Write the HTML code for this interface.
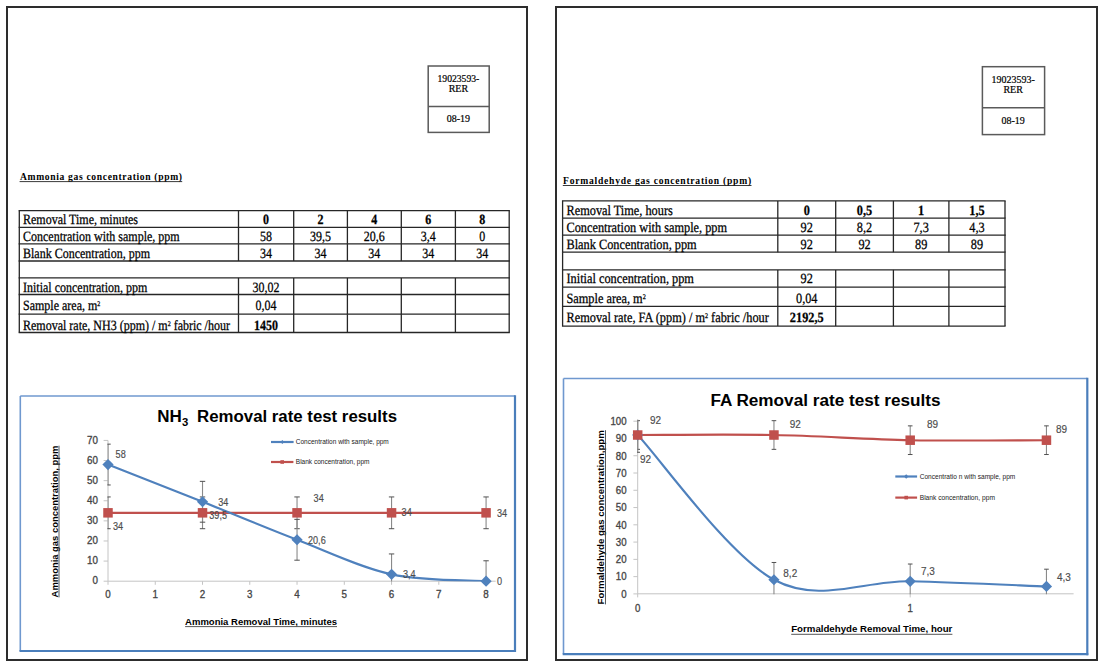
<!DOCTYPE html>
<html><head><meta charset="utf-8"><title>Gas removal rate report</title>
<style>
html,body{margin:0;padding:0;background:#fff;}
body{width:1104px;height:669px;overflow:hidden;position:relative;font-family:"Liberation Serif",serif;}
svg{position:absolute;left:0;top:0;display:block;}
</style></head>
<body>
<svg width="1104" height="669" viewBox="0 0 1104 669">
<rect x="0" y="0" width="1104" height="669" fill="#fff"/>
<rect x="7" y="7" width="520" height="653" fill="none" stroke="#2d2d2d" stroke-width="2"/>
<rect x="556" y="7" width="541" height="653" fill="none" stroke="#2d2d2d" stroke-width="2"/>
<rect x="428.20" y="66.00" width="61.00" height="66.40" fill="none" stroke="#5a5a5a" stroke-width="1.5"/>
<line x1="428.20" y1="106.60" x2="489.20" y2="106.60" stroke="#5a5a5a" stroke-width="1.5" />
<text transform="translate(458.40,82.00) scale(1.0,1.08)" x="0" y="0" font-family="&quot;Liberation Serif&quot;, serif" font-size="10" font-weight="normal" text-anchor="middle" fill="#000" textLength="41.80" lengthAdjust="spacingAndGlyphs" stroke="#000" stroke-width="0.2">19023593-</text>
<text transform="translate(458.40,92.10) scale(1.0,1.08)" x="0" y="0" font-family="&quot;Liberation Serif&quot;, serif" font-size="10" font-weight="normal" text-anchor="middle" fill="#000" stroke="#000" stroke-width="0.2">RER</text>
<text transform="translate(458.40,122.30) scale(1.0,1.08)" x="0" y="0" font-family="&quot;Liberation Serif&quot;, serif" font-size="10" font-weight="normal" text-anchor="middle" fill="#000" stroke="#000" stroke-width="0.2">08-19</text>
<rect x="982.40" y="66.70" width="62.20" height="67.90" fill="none" stroke="#5a5a5a" stroke-width="1.5"/>
<line x1="982.40" y1="107.80" x2="1044.60" y2="107.80" stroke="#5a5a5a" stroke-width="1.5" />
<text transform="translate(1013.10,82.80) scale(1.0,1.08)" x="0" y="0" font-family="&quot;Liberation Serif&quot;, serif" font-size="10" font-weight="normal" text-anchor="middle" fill="#000" textLength="43.20" lengthAdjust="spacingAndGlyphs" stroke="#000" stroke-width="0.2">19023593-</text>
<text transform="translate(1013.10,92.90) scale(1.0,1.08)" x="0" y="0" font-family="&quot;Liberation Serif&quot;, serif" font-size="10" font-weight="normal" text-anchor="middle" fill="#000" stroke="#000" stroke-width="0.2">RER</text>
<text transform="translate(1013.10,124.20) scale(1.0,1.08)" x="0" y="0" font-family="&quot;Liberation Serif&quot;, serif" font-size="10" font-weight="normal" text-anchor="middle" fill="#000" stroke="#000" stroke-width="0.2">08-19</text>
<line x1="18.65" y1="210.60" x2="509.85" y2="210.60" stroke="#262626" stroke-width="1.3" />
<line x1="18.65" y1="227.30" x2="509.85" y2="227.30" stroke="#262626" stroke-width="1.3" />
<line x1="18.65" y1="243.90" x2="509.85" y2="243.90" stroke="#262626" stroke-width="1.3" />
<line x1="18.65" y1="261.00" x2="509.85" y2="261.00" stroke="#262626" stroke-width="1.3" />
<line x1="18.65" y1="277.90" x2="509.85" y2="277.90" stroke="#262626" stroke-width="1.3" />
<line x1="18.65" y1="294.50" x2="509.85" y2="294.50" stroke="#262626" stroke-width="1.3" />
<line x1="18.65" y1="314.10" x2="509.85" y2="314.10" stroke="#262626" stroke-width="1.3" />
<line x1="18.65" y1="332.50" x2="509.85" y2="332.50" stroke="#262626" stroke-width="1.3" />
<line x1="19.30" y1="210.60" x2="19.30" y2="227.30" stroke="#262626" stroke-width="1.3" />
<line x1="238.50" y1="210.60" x2="238.50" y2="227.30" stroke="#262626" stroke-width="1.3" />
<line x1="293.70" y1="210.60" x2="293.70" y2="227.30" stroke="#262626" stroke-width="1.3" />
<line x1="347.40" y1="210.60" x2="347.40" y2="227.30" stroke="#262626" stroke-width="1.3" />
<line x1="401.30" y1="210.60" x2="401.30" y2="227.30" stroke="#262626" stroke-width="1.3" />
<line x1="455.40" y1="210.60" x2="455.40" y2="227.30" stroke="#262626" stroke-width="1.3" />
<line x1="509.20" y1="210.60" x2="509.20" y2="227.30" stroke="#262626" stroke-width="1.3" />
<line x1="19.30" y1="227.30" x2="19.30" y2="243.90" stroke="#262626" stroke-width="1.3" />
<line x1="238.50" y1="227.30" x2="238.50" y2="243.90" stroke="#262626" stroke-width="1.3" />
<line x1="293.70" y1="227.30" x2="293.70" y2="243.90" stroke="#262626" stroke-width="1.3" />
<line x1="347.40" y1="227.30" x2="347.40" y2="243.90" stroke="#262626" stroke-width="1.3" />
<line x1="401.30" y1="227.30" x2="401.30" y2="243.90" stroke="#262626" stroke-width="1.3" />
<line x1="455.40" y1="227.30" x2="455.40" y2="243.90" stroke="#262626" stroke-width="1.3" />
<line x1="509.20" y1="227.30" x2="509.20" y2="243.90" stroke="#262626" stroke-width="1.3" />
<line x1="19.30" y1="243.90" x2="19.30" y2="261.00" stroke="#262626" stroke-width="1.3" />
<line x1="238.50" y1="243.90" x2="238.50" y2="261.00" stroke="#262626" stroke-width="1.3" />
<line x1="293.70" y1="243.90" x2="293.70" y2="261.00" stroke="#262626" stroke-width="1.3" />
<line x1="347.40" y1="243.90" x2="347.40" y2="261.00" stroke="#262626" stroke-width="1.3" />
<line x1="401.30" y1="243.90" x2="401.30" y2="261.00" stroke="#262626" stroke-width="1.3" />
<line x1="455.40" y1="243.90" x2="455.40" y2="261.00" stroke="#262626" stroke-width="1.3" />
<line x1="509.20" y1="243.90" x2="509.20" y2="261.00" stroke="#262626" stroke-width="1.3" />
<line x1="19.30" y1="261.00" x2="19.30" y2="277.90" stroke="#262626" stroke-width="1.3" />
<line x1="509.20" y1="261.00" x2="509.20" y2="277.90" stroke="#262626" stroke-width="1.3" />
<line x1="19.30" y1="277.90" x2="19.30" y2="294.50" stroke="#262626" stroke-width="1.3" />
<line x1="238.50" y1="277.90" x2="238.50" y2="294.50" stroke="#262626" stroke-width="1.3" />
<line x1="293.70" y1="277.90" x2="293.70" y2="294.50" stroke="#262626" stroke-width="1.3" />
<line x1="347.40" y1="277.90" x2="347.40" y2="294.50" stroke="#262626" stroke-width="1.3" />
<line x1="401.30" y1="277.90" x2="401.30" y2="294.50" stroke="#262626" stroke-width="1.3" />
<line x1="455.40" y1="277.90" x2="455.40" y2="294.50" stroke="#262626" stroke-width="1.3" />
<line x1="509.20" y1="277.90" x2="509.20" y2="294.50" stroke="#262626" stroke-width="1.3" />
<line x1="19.30" y1="294.50" x2="19.30" y2="314.10" stroke="#262626" stroke-width="1.3" />
<line x1="238.50" y1="294.50" x2="238.50" y2="314.10" stroke="#262626" stroke-width="1.3" />
<line x1="293.70" y1="294.50" x2="293.70" y2="314.10" stroke="#262626" stroke-width="1.3" />
<line x1="347.40" y1="294.50" x2="347.40" y2="314.10" stroke="#262626" stroke-width="1.3" />
<line x1="401.30" y1="294.50" x2="401.30" y2="314.10" stroke="#262626" stroke-width="1.3" />
<line x1="455.40" y1="294.50" x2="455.40" y2="314.10" stroke="#262626" stroke-width="1.3" />
<line x1="509.20" y1="294.50" x2="509.20" y2="314.10" stroke="#262626" stroke-width="1.3" />
<line x1="19.30" y1="314.10" x2="19.30" y2="332.50" stroke="#262626" stroke-width="1.3" />
<line x1="238.50" y1="314.10" x2="238.50" y2="332.50" stroke="#262626" stroke-width="1.3" />
<line x1="293.70" y1="314.10" x2="293.70" y2="332.50" stroke="#262626" stroke-width="1.3" />
<line x1="347.40" y1="314.10" x2="347.40" y2="332.50" stroke="#262626" stroke-width="1.3" />
<line x1="401.30" y1="314.10" x2="401.30" y2="332.50" stroke="#262626" stroke-width="1.3" />
<line x1="455.40" y1="314.10" x2="455.40" y2="332.50" stroke="#262626" stroke-width="1.3" />
<line x1="509.20" y1="314.10" x2="509.20" y2="332.50" stroke="#262626" stroke-width="1.3" />
<text transform="translate(23.00,224.00) scale(1.0,1.18)" x="0" y="0" font-family="&quot;Liberation Serif&quot;, serif" font-size="12" font-weight="normal" text-anchor="start" fill="#000" stroke="#000" stroke-width="0.22" text-rendering="geometricPrecision">Removal Time, minutes</text>
<text transform="translate(23.00,241.00) scale(1.0,1.18)" x="0" y="0" font-family="&quot;Liberation Serif&quot;, serif" font-size="12" font-weight="normal" text-anchor="start" fill="#000" stroke="#000" stroke-width="0.22" text-rendering="geometricPrecision">Concentration with sample, ppm</text>
<text transform="translate(23.00,258.00) scale(1.0,1.18)" x="0" y="0" font-family="&quot;Liberation Serif&quot;, serif" font-size="12" font-weight="normal" text-anchor="start" fill="#000" stroke="#000" stroke-width="0.22" text-rendering="geometricPrecision">Blank Concentration, ppm</text>
<text transform="translate(23.00,292.00) scale(1.0,1.18)" x="0" y="0" font-family="&quot;Liberation Serif&quot;, serif" font-size="12" font-weight="normal" text-anchor="start" fill="#000" stroke="#000" stroke-width="0.22" text-rendering="geometricPrecision">Initial concentration, ppm</text>
<text transform="translate(23.00,310.00) scale(1.0,1.18)" x="0" y="0" font-family="&quot;Liberation Serif&quot;, serif" font-size="12" font-weight="normal" text-anchor="start" fill="#000" stroke="#000" stroke-width="0.22" text-rendering="geometricPrecision">Sample area, m<tspan font-size="6" dy="-3.6">2</tspan></text>
<text transform="translate(23.00,330.00) scale(1.0,1.18)" x="0" y="0" font-family="&quot;Liberation Serif&quot;, serif" font-size="12" font-weight="normal" text-anchor="start" fill="#000" stroke="#000" stroke-width="0.22" text-rendering="geometricPrecision">Removal rate, NH3 (ppm) / m<tspan font-size="6" dy="-3.6">2</tspan><tspan dy="3.6"> fabric /hour</tspan></text>
<text transform="translate(266.10,224.00) scale(1.0,1.18)" x="0" y="0" font-family="&quot;Liberation Serif&quot;, serif" font-size="12" font-weight="bold" text-anchor="middle" fill="#000" stroke="#000" stroke-width="0.22" text-rendering="geometricPrecision">0</text>
<text transform="translate(320.55,224.00) scale(1.0,1.18)" x="0" y="0" font-family="&quot;Liberation Serif&quot;, serif" font-size="12" font-weight="bold" text-anchor="middle" fill="#000" stroke="#000" stroke-width="0.22" text-rendering="geometricPrecision">2</text>
<text transform="translate(374.35,224.00) scale(1.0,1.18)" x="0" y="0" font-family="&quot;Liberation Serif&quot;, serif" font-size="12" font-weight="bold" text-anchor="middle" fill="#000" stroke="#000" stroke-width="0.22" text-rendering="geometricPrecision">4</text>
<text transform="translate(428.35,224.00) scale(1.0,1.18)" x="0" y="0" font-family="&quot;Liberation Serif&quot;, serif" font-size="12" font-weight="bold" text-anchor="middle" fill="#000" stroke="#000" stroke-width="0.22" text-rendering="geometricPrecision">6</text>
<text transform="translate(482.30,224.00) scale(1.0,1.18)" x="0" y="0" font-family="&quot;Liberation Serif&quot;, serif" font-size="12" font-weight="bold" text-anchor="middle" fill="#000" stroke="#000" stroke-width="0.22" text-rendering="geometricPrecision">8</text>
<text transform="translate(266.10,241.00) scale(1.0,1.18)" x="0" y="0" font-family="&quot;Liberation Serif&quot;, serif" font-size="12" font-weight="normal" text-anchor="middle" fill="#000" stroke="#000" stroke-width="0.22" text-rendering="geometricPrecision">58</text>
<text transform="translate(320.55,241.00) scale(1.0,1.18)" x="0" y="0" font-family="&quot;Liberation Serif&quot;, serif" font-size="12" font-weight="normal" text-anchor="middle" fill="#000" stroke="#000" stroke-width="0.22" text-rendering="geometricPrecision">39,5</text>
<text transform="translate(374.35,241.00) scale(1.0,1.18)" x="0" y="0" font-family="&quot;Liberation Serif&quot;, serif" font-size="12" font-weight="normal" text-anchor="middle" fill="#000" stroke="#000" stroke-width="0.22" text-rendering="geometricPrecision">20,6</text>
<text transform="translate(428.35,241.00) scale(1.0,1.18)" x="0" y="0" font-family="&quot;Liberation Serif&quot;, serif" font-size="12" font-weight="normal" text-anchor="middle" fill="#000" stroke="#000" stroke-width="0.22" text-rendering="geometricPrecision">3,4</text>
<text transform="translate(482.30,241.00) scale(1.0,1.18)" x="0" y="0" font-family="&quot;Liberation Serif&quot;, serif" font-size="12" font-weight="normal" text-anchor="middle" fill="#000" stroke="#000" stroke-width="0.22" text-rendering="geometricPrecision">0</text>
<text transform="translate(266.10,258.00) scale(1.0,1.18)" x="0" y="0" font-family="&quot;Liberation Serif&quot;, serif" font-size="12" font-weight="normal" text-anchor="middle" fill="#000" stroke="#000" stroke-width="0.22" text-rendering="geometricPrecision">34</text>
<text transform="translate(320.55,258.00) scale(1.0,1.18)" x="0" y="0" font-family="&quot;Liberation Serif&quot;, serif" font-size="12" font-weight="normal" text-anchor="middle" fill="#000" stroke="#000" stroke-width="0.22" text-rendering="geometricPrecision">34</text>
<text transform="translate(374.35,258.00) scale(1.0,1.18)" x="0" y="0" font-family="&quot;Liberation Serif&quot;, serif" font-size="12" font-weight="normal" text-anchor="middle" fill="#000" stroke="#000" stroke-width="0.22" text-rendering="geometricPrecision">34</text>
<text transform="translate(428.35,258.00) scale(1.0,1.18)" x="0" y="0" font-family="&quot;Liberation Serif&quot;, serif" font-size="12" font-weight="normal" text-anchor="middle" fill="#000" stroke="#000" stroke-width="0.22" text-rendering="geometricPrecision">34</text>
<text transform="translate(482.30,258.00) scale(1.0,1.18)" x="0" y="0" font-family="&quot;Liberation Serif&quot;, serif" font-size="12" font-weight="normal" text-anchor="middle" fill="#000" stroke="#000" stroke-width="0.22" text-rendering="geometricPrecision">34</text>
<text transform="translate(266.10,292.00) scale(1.0,1.18)" x="0" y="0" font-family="&quot;Liberation Serif&quot;, serif" font-size="12" font-weight="normal" text-anchor="middle" fill="#000" stroke="#000" stroke-width="0.22" text-rendering="geometricPrecision">30,02</text>
<text transform="translate(266.10,310.00) scale(1.0,1.18)" x="0" y="0" font-family="&quot;Liberation Serif&quot;, serif" font-size="12" font-weight="normal" text-anchor="middle" fill="#000" stroke="#000" stroke-width="0.22" text-rendering="geometricPrecision">0,04</text>
<text transform="translate(266.10,330.00) scale(1.0,1.18)" x="0" y="0" font-family="&quot;Liberation Serif&quot;, serif" font-size="12" font-weight="bold" text-anchor="middle" fill="#000" stroke="#000" stroke-width="0.22" text-rendering="geometricPrecision">1450</text>
<text transform="translate(20.00,180.20) scale(1.0,1.08)" x="0" y="0" font-family="&quot;Liberation Serif&quot;, serif" font-size="9.6" font-weight="bold" text-anchor="start" fill="#000" textLength="162.00" lengthAdjust="spacing" >Ammonia gas concentration (ppm)</text>
<line x1="19.60" y1="181.60" x2="182.20" y2="181.60" stroke="#222" stroke-width="0.9" />
<line x1="561.95" y1="200.90" x2="1005.65" y2="200.90" stroke="#262626" stroke-width="1.3" />
<line x1="561.95" y1="218.20" x2="1005.65" y2="218.20" stroke="#262626" stroke-width="1.3" />
<line x1="561.95" y1="235.10" x2="1005.65" y2="235.10" stroke="#262626" stroke-width="1.3" />
<line x1="561.95" y1="252.20" x2="1005.65" y2="252.20" stroke="#262626" stroke-width="1.3" />
<line x1="561.95" y1="269.90" x2="1005.65" y2="269.90" stroke="#262626" stroke-width="1.3" />
<line x1="561.95" y1="287.20" x2="1005.65" y2="287.20" stroke="#262626" stroke-width="1.3" />
<line x1="561.95" y1="306.30" x2="1005.65" y2="306.30" stroke="#262626" stroke-width="1.3" />
<line x1="561.95" y1="326.10" x2="1005.65" y2="326.10" stroke="#262626" stroke-width="1.3" />
<line x1="562.60" y1="200.90" x2="562.60" y2="218.20" stroke="#262626" stroke-width="1.3" />
<line x1="777.80" y1="200.90" x2="777.80" y2="218.20" stroke="#262626" stroke-width="1.3" />
<line x1="835.70" y1="200.90" x2="835.70" y2="218.20" stroke="#262626" stroke-width="1.3" />
<line x1="893.40" y1="200.90" x2="893.40" y2="218.20" stroke="#262626" stroke-width="1.3" />
<line x1="948.90" y1="200.90" x2="948.90" y2="218.20" stroke="#262626" stroke-width="1.3" />
<line x1="1005.00" y1="200.90" x2="1005.00" y2="218.20" stroke="#262626" stroke-width="1.3" />
<line x1="562.60" y1="218.20" x2="562.60" y2="235.10" stroke="#262626" stroke-width="1.3" />
<line x1="777.80" y1="218.20" x2="777.80" y2="235.10" stroke="#262626" stroke-width="1.3" />
<line x1="835.70" y1="218.20" x2="835.70" y2="235.10" stroke="#262626" stroke-width="1.3" />
<line x1="893.40" y1="218.20" x2="893.40" y2="235.10" stroke="#262626" stroke-width="1.3" />
<line x1="948.90" y1="218.20" x2="948.90" y2="235.10" stroke="#262626" stroke-width="1.3" />
<line x1="1005.00" y1="218.20" x2="1005.00" y2="235.10" stroke="#262626" stroke-width="1.3" />
<line x1="562.60" y1="235.10" x2="562.60" y2="252.20" stroke="#262626" stroke-width="1.3" />
<line x1="777.80" y1="235.10" x2="777.80" y2="252.20" stroke="#262626" stroke-width="1.3" />
<line x1="835.70" y1="235.10" x2="835.70" y2="252.20" stroke="#262626" stroke-width="1.3" />
<line x1="893.40" y1="235.10" x2="893.40" y2="252.20" stroke="#262626" stroke-width="1.3" />
<line x1="948.90" y1="235.10" x2="948.90" y2="252.20" stroke="#262626" stroke-width="1.3" />
<line x1="1005.00" y1="235.10" x2="1005.00" y2="252.20" stroke="#262626" stroke-width="1.3" />
<line x1="562.60" y1="252.20" x2="562.60" y2="269.90" stroke="#262626" stroke-width="1.3" />
<line x1="1005.00" y1="252.20" x2="1005.00" y2="269.90" stroke="#262626" stroke-width="1.3" />
<line x1="562.60" y1="269.90" x2="562.60" y2="287.20" stroke="#262626" stroke-width="1.3" />
<line x1="777.80" y1="269.90" x2="777.80" y2="287.20" stroke="#262626" stroke-width="1.3" />
<line x1="835.70" y1="269.90" x2="835.70" y2="287.20" stroke="#262626" stroke-width="1.3" />
<line x1="893.40" y1="269.90" x2="893.40" y2="287.20" stroke="#262626" stroke-width="1.3" />
<line x1="948.90" y1="269.90" x2="948.90" y2="287.20" stroke="#262626" stroke-width="1.3" />
<line x1="1005.00" y1="269.90" x2="1005.00" y2="287.20" stroke="#262626" stroke-width="1.3" />
<line x1="562.60" y1="287.20" x2="562.60" y2="306.30" stroke="#262626" stroke-width="1.3" />
<line x1="777.80" y1="287.20" x2="777.80" y2="306.30" stroke="#262626" stroke-width="1.3" />
<line x1="835.70" y1="287.20" x2="835.70" y2="306.30" stroke="#262626" stroke-width="1.3" />
<line x1="893.40" y1="287.20" x2="893.40" y2="306.30" stroke="#262626" stroke-width="1.3" />
<line x1="948.90" y1="287.20" x2="948.90" y2="306.30" stroke="#262626" stroke-width="1.3" />
<line x1="1005.00" y1="287.20" x2="1005.00" y2="306.30" stroke="#262626" stroke-width="1.3" />
<line x1="562.60" y1="306.30" x2="562.60" y2="326.10" stroke="#262626" stroke-width="1.3" />
<line x1="777.80" y1="306.30" x2="777.80" y2="326.10" stroke="#262626" stroke-width="1.3" />
<line x1="835.70" y1="306.30" x2="835.70" y2="326.10" stroke="#262626" stroke-width="1.3" />
<line x1="893.40" y1="306.30" x2="893.40" y2="326.10" stroke="#262626" stroke-width="1.3" />
<line x1="948.90" y1="306.30" x2="948.90" y2="326.10" stroke="#262626" stroke-width="1.3" />
<line x1="1005.00" y1="306.30" x2="1005.00" y2="326.10" stroke="#262626" stroke-width="1.3" />
<text transform="translate(566.50,215.00) scale(1.025,1.18)" x="0" y="0" font-family="&quot;Liberation Serif&quot;, serif" font-size="12" font-weight="normal" text-anchor="start" fill="#000" stroke="#000" stroke-width="0.22" text-rendering="geometricPrecision">Removal Time, hours</text>
<text transform="translate(566.50,232.00) scale(1.025,1.18)" x="0" y="0" font-family="&quot;Liberation Serif&quot;, serif" font-size="12" font-weight="normal" text-anchor="start" fill="#000" stroke="#000" stroke-width="0.22" text-rendering="geometricPrecision">Concentration with sample, ppm</text>
<text transform="translate(566.50,249.00) scale(1.025,1.18)" x="0" y="0" font-family="&quot;Liberation Serif&quot;, serif" font-size="12" font-weight="normal" text-anchor="start" fill="#000" stroke="#000" stroke-width="0.22" text-rendering="geometricPrecision">Blank Concentration, ppm</text>
<text transform="translate(566.50,283.00) scale(1.025,1.18)" x="0" y="0" font-family="&quot;Liberation Serif&quot;, serif" font-size="12" font-weight="normal" text-anchor="start" fill="#000" stroke="#000" stroke-width="0.22" text-rendering="geometricPrecision">Initial concentration, ppm</text>
<text transform="translate(566.50,303.00) scale(1.025,1.18)" x="0" y="0" font-family="&quot;Liberation Serif&quot;, serif" font-size="12" font-weight="normal" text-anchor="start" fill="#000" stroke="#000" stroke-width="0.22" text-rendering="geometricPrecision">Sample area, m<tspan font-size="6" dy="-3.6">2</tspan></text>
<text transform="translate(566.50,322.00) scale(1.025,1.18)" x="0" y="0" font-family="&quot;Liberation Serif&quot;, serif" font-size="12" font-weight="normal" text-anchor="start" fill="#000" stroke="#000" stroke-width="0.22" text-rendering="geometricPrecision">Removal rate, FA (ppm) / m<tspan font-size="6" dy="-3.6">2</tspan><tspan dy="3.6"> fabric /hour</tspan></text>
<text transform="translate(806.75,215.00) scale(1.025,1.18)" x="0" y="0" font-family="&quot;Liberation Serif&quot;, serif" font-size="12" font-weight="bold" text-anchor="middle" fill="#000" stroke="#000" stroke-width="0.22" text-rendering="geometricPrecision">0</text>
<text transform="translate(864.55,215.00) scale(1.025,1.18)" x="0" y="0" font-family="&quot;Liberation Serif&quot;, serif" font-size="12" font-weight="bold" text-anchor="middle" fill="#000" stroke="#000" stroke-width="0.22" text-rendering="geometricPrecision">0,5</text>
<text transform="translate(921.15,215.00) scale(1.025,1.18)" x="0" y="0" font-family="&quot;Liberation Serif&quot;, serif" font-size="12" font-weight="bold" text-anchor="middle" fill="#000" stroke="#000" stroke-width="0.22" text-rendering="geometricPrecision">1</text>
<text transform="translate(976.95,215.00) scale(1.025,1.18)" x="0" y="0" font-family="&quot;Liberation Serif&quot;, serif" font-size="12" font-weight="bold" text-anchor="middle" fill="#000" stroke="#000" stroke-width="0.22" text-rendering="geometricPrecision">1,5</text>
<text transform="translate(806.75,232.00) scale(1.025,1.18)" x="0" y="0" font-family="&quot;Liberation Serif&quot;, serif" font-size="12" font-weight="normal" text-anchor="middle" fill="#000" stroke="#000" stroke-width="0.22" text-rendering="geometricPrecision">92</text>
<text transform="translate(864.55,232.00) scale(1.025,1.18)" x="0" y="0" font-family="&quot;Liberation Serif&quot;, serif" font-size="12" font-weight="normal" text-anchor="middle" fill="#000" stroke="#000" stroke-width="0.22" text-rendering="geometricPrecision">8,2</text>
<text transform="translate(921.15,232.00) scale(1.025,1.18)" x="0" y="0" font-family="&quot;Liberation Serif&quot;, serif" font-size="12" font-weight="normal" text-anchor="middle" fill="#000" stroke="#000" stroke-width="0.22" text-rendering="geometricPrecision">7,3</text>
<text transform="translate(976.95,232.00) scale(1.025,1.18)" x="0" y="0" font-family="&quot;Liberation Serif&quot;, serif" font-size="12" font-weight="normal" text-anchor="middle" fill="#000" stroke="#000" stroke-width="0.22" text-rendering="geometricPrecision">4,3</text>
<text transform="translate(806.75,249.00) scale(1.025,1.18)" x="0" y="0" font-family="&quot;Liberation Serif&quot;, serif" font-size="12" font-weight="normal" text-anchor="middle" fill="#000" stroke="#000" stroke-width="0.22" text-rendering="geometricPrecision">92</text>
<text transform="translate(864.55,249.00) scale(1.025,1.18)" x="0" y="0" font-family="&quot;Liberation Serif&quot;, serif" font-size="12" font-weight="normal" text-anchor="middle" fill="#000" stroke="#000" stroke-width="0.22" text-rendering="geometricPrecision">92</text>
<text transform="translate(921.15,249.00) scale(1.025,1.18)" x="0" y="0" font-family="&quot;Liberation Serif&quot;, serif" font-size="12" font-weight="normal" text-anchor="middle" fill="#000" stroke="#000" stroke-width="0.22" text-rendering="geometricPrecision">89</text>
<text transform="translate(976.95,249.00) scale(1.025,1.18)" x="0" y="0" font-family="&quot;Liberation Serif&quot;, serif" font-size="12" font-weight="normal" text-anchor="middle" fill="#000" stroke="#000" stroke-width="0.22" text-rendering="geometricPrecision">89</text>
<text transform="translate(806.75,283.00) scale(1.025,1.18)" x="0" y="0" font-family="&quot;Liberation Serif&quot;, serif" font-size="12" font-weight="normal" text-anchor="middle" fill="#000" stroke="#000" stroke-width="0.22" text-rendering="geometricPrecision">92</text>
<text transform="translate(806.75,303.00) scale(1.025,1.18)" x="0" y="0" font-family="&quot;Liberation Serif&quot;, serif" font-size="12" font-weight="normal" text-anchor="middle" fill="#000" stroke="#000" stroke-width="0.22" text-rendering="geometricPrecision">0,04</text>
<text transform="translate(806.75,322.00) scale(1.025,1.18)" x="0" y="0" font-family="&quot;Liberation Serif&quot;, serif" font-size="12" font-weight="bold" text-anchor="middle" fill="#000" stroke="#000" stroke-width="0.22" text-rendering="geometricPrecision">2192,5</text>
<text transform="translate(563.10,184.00) scale(1.0,1.08)" x="0" y="0" font-family="&quot;Liberation Serif&quot;, serif" font-size="9.6" font-weight="bold" text-anchor="start" fill="#000" textLength="188.00" lengthAdjust="spacing" >Formaldehyde gas concentration (ppm)</text>
<line x1="562.80" y1="185.50" x2="751.50" y2="185.50" stroke="#222" stroke-width="0.9" />
<line x1="20.30" y1="396.00" x2="515.00" y2="396.00" stroke="#6f98cf" stroke-width="1.6"/>
<line x1="20.30" y1="396.00" x2="20.30" y2="651.00" stroke="#6f98cf" stroke-width="1.6"/>
<line x1="515.00" y1="395.20" x2="515.00" y2="652.00" stroke="#4a7ebb" stroke-width="2.2"/>
<line x1="19.50" y1="651.00" x2="516.00" y2="651.00" stroke="#4a7ebb" stroke-width="2.2"/>
<text x="157.30" y="422.40" font-family="&quot;Liberation Sans&quot;, sans-serif" font-size="16" font-weight="bold" text-anchor="start" fill="#000" textLength="24.50" lengthAdjust="spacingAndGlyphs" >NH</text>
<text x="182.00" y="425.80" font-family="&quot;Liberation Sans&quot;, sans-serif" font-size="10.5" font-weight="bold" text-anchor="start" fill="#000" textLength="6.30" lengthAdjust="spacingAndGlyphs" >3</text>
<text x="197.10" y="422.40" font-family="&quot;Liberation Sans&quot;, sans-serif" font-size="16" font-weight="bold" text-anchor="start" fill="#000" textLength="199.90" lengthAdjust="spacingAndGlyphs" >Removal rate test results</text>
<line x1="108.00" y1="440.43" x2="108.00" y2="581.20" stroke="#c4c4c4" stroke-width="1" />
<line x1="108.00" y1="581.20" x2="495.70" y2="581.20" stroke="#c4c4c4" stroke-width="1" />
<line x1="103.60" y1="581.20" x2="108.00" y2="581.20" stroke="#c4c4c4" stroke-width="1" />
<text transform="translate(97.90,584.30) scale(1.0,1.12)" x="0" y="0" font-family="&quot;Liberation Sans&quot;, sans-serif" font-size="9.8" font-weight="normal" text-anchor="end" fill="#454545" stroke="#454545" stroke-width="0.3">0</text>
<line x1="103.60" y1="561.09" x2="108.00" y2="561.09" stroke="#c4c4c4" stroke-width="1" />
<text transform="translate(97.90,564.19) scale(1.0,1.12)" x="0" y="0" font-family="&quot;Liberation Sans&quot;, sans-serif" font-size="9.8" font-weight="normal" text-anchor="end" fill="#454545" stroke="#454545" stroke-width="0.3">10</text>
<line x1="103.60" y1="540.98" x2="108.00" y2="540.98" stroke="#c4c4c4" stroke-width="1" />
<text transform="translate(97.90,544.08) scale(1.0,1.12)" x="0" y="0" font-family="&quot;Liberation Sans&quot;, sans-serif" font-size="9.8" font-weight="normal" text-anchor="end" fill="#454545" stroke="#454545" stroke-width="0.3">20</text>
<line x1="103.60" y1="520.87" x2="108.00" y2="520.87" stroke="#c4c4c4" stroke-width="1" />
<text transform="translate(97.90,523.97) scale(1.0,1.12)" x="0" y="0" font-family="&quot;Liberation Sans&quot;, sans-serif" font-size="9.8" font-weight="normal" text-anchor="end" fill="#454545" stroke="#454545" stroke-width="0.3">30</text>
<line x1="103.60" y1="500.76" x2="108.00" y2="500.76" stroke="#c4c4c4" stroke-width="1" />
<text transform="translate(97.90,503.86) scale(1.0,1.12)" x="0" y="0" font-family="&quot;Liberation Sans&quot;, sans-serif" font-size="9.8" font-weight="normal" text-anchor="end" fill="#454545" stroke="#454545" stroke-width="0.3">40</text>
<line x1="103.60" y1="480.65" x2="108.00" y2="480.65" stroke="#c4c4c4" stroke-width="1" />
<text transform="translate(97.90,483.75) scale(1.0,1.12)" x="0" y="0" font-family="&quot;Liberation Sans&quot;, sans-serif" font-size="9.8" font-weight="normal" text-anchor="end" fill="#454545" stroke="#454545" stroke-width="0.3">50</text>
<line x1="103.60" y1="460.54" x2="108.00" y2="460.54" stroke="#c4c4c4" stroke-width="1" />
<text transform="translate(97.90,463.64) scale(1.0,1.12)" x="0" y="0" font-family="&quot;Liberation Sans&quot;, sans-serif" font-size="9.8" font-weight="normal" text-anchor="end" fill="#454545" stroke="#454545" stroke-width="0.3">60</text>
<line x1="103.60" y1="440.43" x2="108.00" y2="440.43" stroke="#c4c4c4" stroke-width="1" />
<text transform="translate(97.90,443.53) scale(1.0,1.12)" x="0" y="0" font-family="&quot;Liberation Sans&quot;, sans-serif" font-size="9.8" font-weight="normal" text-anchor="end" fill="#454545" stroke="#454545" stroke-width="0.3">70</text>
<line x1="108.00" y1="581.20" x2="108.00" y2="584.80" stroke="#c4c4c4" stroke-width="1" />
<text transform="translate(108.00,598.40) scale(1.0,1.12)" x="0" y="0" font-family="&quot;Liberation Sans&quot;, sans-serif" font-size="9.8" font-weight="normal" text-anchor="middle" fill="#454545" stroke="#454545" stroke-width="0.3">0</text>
<line x1="155.26" y1="581.20" x2="155.26" y2="584.80" stroke="#c4c4c4" stroke-width="1" />
<text transform="translate(155.26,598.40) scale(1.0,1.12)" x="0" y="0" font-family="&quot;Liberation Sans&quot;, sans-serif" font-size="9.8" font-weight="normal" text-anchor="middle" fill="#454545" stroke="#454545" stroke-width="0.3">1</text>
<line x1="202.52" y1="581.20" x2="202.52" y2="584.80" stroke="#c4c4c4" stroke-width="1" />
<text transform="translate(202.52,598.40) scale(1.0,1.12)" x="0" y="0" font-family="&quot;Liberation Sans&quot;, sans-serif" font-size="9.8" font-weight="normal" text-anchor="middle" fill="#454545" stroke="#454545" stroke-width="0.3">2</text>
<line x1="249.78" y1="581.20" x2="249.78" y2="584.80" stroke="#c4c4c4" stroke-width="1" />
<text transform="translate(249.78,598.40) scale(1.0,1.12)" x="0" y="0" font-family="&quot;Liberation Sans&quot;, sans-serif" font-size="9.8" font-weight="normal" text-anchor="middle" fill="#454545" stroke="#454545" stroke-width="0.3">3</text>
<line x1="297.04" y1="581.20" x2="297.04" y2="584.80" stroke="#c4c4c4" stroke-width="1" />
<text transform="translate(297.04,598.40) scale(1.0,1.12)" x="0" y="0" font-family="&quot;Liberation Sans&quot;, sans-serif" font-size="9.8" font-weight="normal" text-anchor="middle" fill="#454545" stroke="#454545" stroke-width="0.3">4</text>
<line x1="344.30" y1="581.20" x2="344.30" y2="584.80" stroke="#c4c4c4" stroke-width="1" />
<text transform="translate(344.30,598.40) scale(1.0,1.12)" x="0" y="0" font-family="&quot;Liberation Sans&quot;, sans-serif" font-size="9.8" font-weight="normal" text-anchor="middle" fill="#454545" stroke="#454545" stroke-width="0.3">5</text>
<line x1="391.56" y1="581.20" x2="391.56" y2="584.80" stroke="#c4c4c4" stroke-width="1" />
<text transform="translate(391.56,598.40) scale(1.0,1.12)" x="0" y="0" font-family="&quot;Liberation Sans&quot;, sans-serif" font-size="9.8" font-weight="normal" text-anchor="middle" fill="#454545" stroke="#454545" stroke-width="0.3">6</text>
<line x1="438.82" y1="581.20" x2="438.82" y2="584.80" stroke="#c4c4c4" stroke-width="1" />
<text transform="translate(438.82,598.40) scale(1.0,1.12)" x="0" y="0" font-family="&quot;Liberation Sans&quot;, sans-serif" font-size="9.8" font-weight="normal" text-anchor="middle" fill="#454545" stroke="#454545" stroke-width="0.3">7</text>
<line x1="486.08" y1="581.20" x2="486.08" y2="584.80" stroke="#c4c4c4" stroke-width="1" />
<text transform="translate(486.08,598.40) scale(1.0,1.12)" x="0" y="0" font-family="&quot;Liberation Sans&quot;, sans-serif" font-size="9.8" font-weight="normal" text-anchor="middle" fill="#454545" stroke="#454545" stroke-width="0.3">8</text>
<text x="185.10" y="624.90" font-family="&quot;Liberation Sans&quot;, sans-serif" font-size="9" font-weight="bold" text-anchor="start" fill="#000" textLength="151.90" lengthAdjust="spacingAndGlyphs" >Ammonia Removal Time, minutes</text>
<line x1="185.10" y1="626.60" x2="337.00" y2="626.60" stroke="#444" stroke-width="0.9" />
<g transform="translate(57.8,597.4) rotate(-90)">
<text x="0.00" y="0.00" font-family="&quot;Liberation Sans&quot;, sans-serif" font-size="9" font-weight="bold" text-anchor="start" fill="#000" textLength="151.70" lengthAdjust="spacingAndGlyphs" >Ammonia gas concentration, ppm</text>
<line x1="0.00" y1="1.20" x2="151.70" y2="1.20" stroke="#444" stroke-width="0.9" />
</g>
<line x1="271.00" y1="442.00" x2="293.60" y2="442.00" stroke="#4f81bd" stroke-width="2.2" />
<path d="M282.30,440.10 L284.20,442.00 L282.30,443.90 L280.40,442.00 Z" fill="#4f81bd"/>
<text x="295.80" y="443.80" font-family="&quot;Liberation Sans&quot;, sans-serif" font-size="6.3" font-weight="normal" text-anchor="start" fill="#222" textLength="93.00" lengthAdjust="spacingAndGlyphs" >Concentration with sample, ppm</text>
<line x1="271.00" y1="462.00" x2="293.40" y2="462.00" stroke="#c0504d" stroke-width="2.2" />
<rect x="280.40" y="460.20" width="3.60" height="3.60" fill="#c0504d"/>
<text x="295.80" y="464.10" font-family="&quot;Liberation Sans&quot;, sans-serif" font-size="6.3" font-weight="normal" text-anchor="start" fill="#222" textLength="73.70" lengthAdjust="spacingAndGlyphs" >Blank concentration, ppm</text>
<clipPath id="cpL"><rect x="107.4" y="430" width="395" height="151.6"/></clipPath>
<g clip-path="url(#cpL)">
<line x1="108.00" y1="496.94" x2="108.00" y2="528.71" stroke="#8a8a8a" stroke-width="1.1" />
<line x1="105.30" y1="496.94" x2="110.70" y2="496.94" stroke="#505050" stroke-width="1" />
<line x1="105.30" y1="528.71" x2="110.70" y2="528.71" stroke="#505050" stroke-width="1" />
<line x1="202.52" y1="496.94" x2="202.52" y2="528.71" stroke="#8a8a8a" stroke-width="1.1" />
<line x1="199.82" y1="496.94" x2="205.22" y2="496.94" stroke="#505050" stroke-width="1" />
<line x1="199.82" y1="528.71" x2="205.22" y2="528.71" stroke="#505050" stroke-width="1" />
<line x1="297.04" y1="496.94" x2="297.04" y2="528.71" stroke="#8a8a8a" stroke-width="1.1" />
<line x1="294.34" y1="496.94" x2="299.74" y2="496.94" stroke="#505050" stroke-width="1" />
<line x1="294.34" y1="528.71" x2="299.74" y2="528.71" stroke="#505050" stroke-width="1" />
<line x1="391.56" y1="496.94" x2="391.56" y2="528.71" stroke="#8a8a8a" stroke-width="1.1" />
<line x1="388.86" y1="496.94" x2="394.26" y2="496.94" stroke="#505050" stroke-width="1" />
<line x1="388.86" y1="528.71" x2="394.26" y2="528.71" stroke="#505050" stroke-width="1" />
<line x1="486.08" y1="496.94" x2="486.08" y2="528.71" stroke="#8a8a8a" stroke-width="1.1" />
<line x1="483.38" y1="496.94" x2="488.78" y2="496.94" stroke="#505050" stroke-width="1" />
<line x1="483.38" y1="528.71" x2="488.78" y2="528.71" stroke="#505050" stroke-width="1" />
<line x1="108.00" y1="444.15" x2="108.00" y2="484.97" stroke="#8a8a8a" stroke-width="1.1" />
<line x1="105.30" y1="444.15" x2="110.70" y2="444.15" stroke="#505050" stroke-width="1" />
<line x1="105.30" y1="484.97" x2="110.70" y2="484.97" stroke="#505050" stroke-width="1" />
<line x1="202.52" y1="481.35" x2="202.52" y2="522.18" stroke="#8a8a8a" stroke-width="1.1" />
<line x1="199.82" y1="481.35" x2="205.22" y2="481.35" stroke="#505050" stroke-width="1" />
<line x1="199.82" y1="522.18" x2="205.22" y2="522.18" stroke="#505050" stroke-width="1" />
<line x1="297.04" y1="519.36" x2="297.04" y2="560.19" stroke="#8a8a8a" stroke-width="1.1" />
<line x1="294.34" y1="519.36" x2="299.74" y2="519.36" stroke="#505050" stroke-width="1" />
<line x1="294.34" y1="560.19" x2="299.74" y2="560.19" stroke="#505050" stroke-width="1" />
<line x1="391.56" y1="553.95" x2="391.56" y2="594.77" stroke="#8a8a8a" stroke-width="1.1" />
<line x1="388.86" y1="553.95" x2="394.26" y2="553.95" stroke="#505050" stroke-width="1" />
<line x1="388.86" y1="594.77" x2="394.26" y2="594.77" stroke="#505050" stroke-width="1" />
<line x1="486.08" y1="560.79" x2="486.08" y2="601.61" stroke="#8a8a8a" stroke-width="1.1" />
<line x1="483.38" y1="560.79" x2="488.78" y2="560.79" stroke="#505050" stroke-width="1" />
<line x1="483.38" y1="601.61" x2="488.78" y2="601.61" stroke="#505050" stroke-width="1" />
<path d="M108.00,512.83 C123.75,512.83 171.01,512.83 202.52,512.83 C234.03,512.83 265.53,512.83 297.04,512.83 C328.55,512.83 360.05,512.83 391.56,512.83 C423.07,512.83 470.33,512.83 486.08,512.83" fill="none" stroke="#c0504d" stroke-width="2.1"/>
<path d="M108.00,464.56 C123.75,470.76 171.01,489.23 202.52,501.77 C234.03,514.30 265.53,527.67 297.04,539.77 C328.55,551.87 360.05,567.46 391.56,574.36 C423.07,581.27 470.33,580.06 486.08,581.20" fill="none" stroke="#4f81bd" stroke-width="2.1"/>
</g>
<rect x="103.25" y="508.08" width="9.50" height="9.50" fill="#c0504d"/>
<rect x="197.77" y="508.08" width="9.50" height="9.50" fill="#c0504d"/>
<rect x="292.29" y="508.08" width="9.50" height="9.50" fill="#c0504d"/>
<rect x="386.81" y="508.08" width="9.50" height="9.50" fill="#c0504d"/>
<rect x="481.33" y="508.08" width="9.50" height="9.50" fill="#c0504d"/>
<path d="M108.00,458.96 L113.60,464.56 L108.00,470.16 L102.40,464.56 Z" fill="#4f81bd"/>
<path d="M202.52,496.17 L208.12,501.77 L202.52,507.37 L196.92,501.77 Z" fill="#4f81bd"/>
<path d="M297.04,534.17 L302.64,539.77 L297.04,545.37 L291.44,539.77 Z" fill="#4f81bd"/>
<path d="M391.56,568.76 L397.16,574.36 L391.56,579.96 L385.96,574.36 Z" fill="#4f81bd"/>
<path d="M486.08,575.60 L491.68,581.20 L486.08,586.80 L480.48,581.20 Z" fill="#4f81bd"/>
<text transform="translate(115.60,457.60) scale(1.0,1.12)" x="0" y="0" font-family="&quot;Liberation Sans&quot;, sans-serif" font-size="9.1" font-weight="normal" text-anchor="start" fill="#4d4d4d" stroke="#4d4d4d" stroke-width="0.15">58</text>
<text transform="translate(113.00,530.30) scale(1.0,1.12)" x="0" y="0" font-family="&quot;Liberation Sans&quot;, sans-serif" font-size="9.1" font-weight="normal" text-anchor="start" fill="#4d4d4d" stroke="#4d4d4d" stroke-width="0.15">34</text>
<text transform="translate(218.30,506.40) scale(1.0,1.12)" x="0" y="0" font-family="&quot;Liberation Sans&quot;, sans-serif" font-size="9.1" font-weight="normal" text-anchor="start" fill="#4d4d4d" stroke="#4d4d4d" stroke-width="0.15">34</text>
<text transform="translate(209.30,518.50) scale(1.0,1.12)" x="0" y="0" font-family="&quot;Liberation Sans&quot;, sans-serif" font-size="9.1" font-weight="normal" text-anchor="start" fill="#4d4d4d" stroke="#4d4d4d" stroke-width="0.15">39,5</text>
<text transform="translate(313.60,501.60) scale(1.0,1.12)" x="0" y="0" font-family="&quot;Liberation Sans&quot;, sans-serif" font-size="9.1" font-weight="normal" text-anchor="start" fill="#4d4d4d" stroke="#4d4d4d" stroke-width="0.15">34</text>
<text transform="translate(308.00,543.60) scale(1.0,1.12)" x="0" y="0" font-family="&quot;Liberation Sans&quot;, sans-serif" font-size="9.1" font-weight="normal" text-anchor="start" fill="#4d4d4d" stroke="#4d4d4d" stroke-width="0.15">20,6</text>
<text transform="translate(401.60,516.00) scale(1.0,1.12)" x="0" y="0" font-family="&quot;Liberation Sans&quot;, sans-serif" font-size="9.1" font-weight="normal" text-anchor="start" fill="#4d4d4d" stroke="#4d4d4d" stroke-width="0.15">34</text>
<text transform="translate(403.00,578.20) scale(1.0,1.12)" x="0" y="0" font-family="&quot;Liberation Sans&quot;, sans-serif" font-size="9.1" font-weight="normal" text-anchor="start" fill="#4d4d4d" stroke="#4d4d4d" stroke-width="0.15">3,4</text>
<text transform="translate(497.00,516.60) scale(1.0,1.12)" x="0" y="0" font-family="&quot;Liberation Sans&quot;, sans-serif" font-size="9.1" font-weight="normal" text-anchor="start" fill="#4d4d4d" stroke="#4d4d4d" stroke-width="0.15">34</text>
<text transform="translate(497.00,584.60) scale(1.0,1.12)" x="0" y="0" font-family="&quot;Liberation Sans&quot;, sans-serif" font-size="9.1" font-weight="normal" text-anchor="start" fill="#4d4d4d" stroke="#4d4d4d" stroke-width="0.15">0</text>
<line x1="563.50" y1="378.50" x2="1087.30" y2="378.50" stroke="#6f98cf" stroke-width="1.6"/>
<line x1="563.50" y1="378.50" x2="563.50" y2="654.20" stroke="#6f98cf" stroke-width="1.6"/>
<line x1="1087.30" y1="377.70" x2="1087.30" y2="655.20" stroke="#4a7ebb" stroke-width="2.2"/>
<line x1="562.70" y1="654.20" x2="1088.30" y2="654.20" stroke="#4a7ebb" stroke-width="2.2"/>
<text x="710.40" y="406.00" font-family="&quot;Liberation Sans&quot;, sans-serif" font-size="16" font-weight="bold" text-anchor="start" fill="#000" textLength="230.10" lengthAdjust="spacingAndGlyphs" >FA Removal rate test results</text>
<line x1="637.70" y1="421.20" x2="637.70" y2="593.80" stroke="#c4c4c4" stroke-width="1" />
<line x1="637.70" y1="593.80" x2="1073.60" y2="593.80" stroke="#c4c4c4" stroke-width="1" />
<line x1="633.40" y1="593.90" x2="637.70" y2="593.90" stroke="#c4c4c4" stroke-width="1" />
<text transform="translate(626.60,597.70) scale(1.0,1.12)" x="0" y="0" font-family="&quot;Liberation Sans&quot;, sans-serif" font-size="9.7" font-weight="normal" text-anchor="end" fill="#454545" stroke="#454545" stroke-width="0.3">0</text>
<line x1="633.40" y1="576.63" x2="637.70" y2="576.63" stroke="#c4c4c4" stroke-width="1" />
<text transform="translate(626.60,580.43) scale(1.0,1.12)" x="0" y="0" font-family="&quot;Liberation Sans&quot;, sans-serif" font-size="9.7" font-weight="normal" text-anchor="end" fill="#454545" stroke="#454545" stroke-width="0.3">10</text>
<line x1="633.40" y1="559.36" x2="637.70" y2="559.36" stroke="#c4c4c4" stroke-width="1" />
<text transform="translate(626.60,563.16) scale(1.0,1.12)" x="0" y="0" font-family="&quot;Liberation Sans&quot;, sans-serif" font-size="9.7" font-weight="normal" text-anchor="end" fill="#454545" stroke="#454545" stroke-width="0.3">20</text>
<line x1="633.40" y1="542.09" x2="637.70" y2="542.09" stroke="#c4c4c4" stroke-width="1" />
<text transform="translate(626.60,545.89) scale(1.0,1.12)" x="0" y="0" font-family="&quot;Liberation Sans&quot;, sans-serif" font-size="9.7" font-weight="normal" text-anchor="end" fill="#454545" stroke="#454545" stroke-width="0.3">30</text>
<line x1="633.40" y1="524.82" x2="637.70" y2="524.82" stroke="#c4c4c4" stroke-width="1" />
<text transform="translate(626.60,528.62) scale(1.0,1.12)" x="0" y="0" font-family="&quot;Liberation Sans&quot;, sans-serif" font-size="9.7" font-weight="normal" text-anchor="end" fill="#454545" stroke="#454545" stroke-width="0.3">40</text>
<line x1="633.40" y1="507.55" x2="637.70" y2="507.55" stroke="#c4c4c4" stroke-width="1" />
<text transform="translate(626.60,511.35) scale(1.0,1.12)" x="0" y="0" font-family="&quot;Liberation Sans&quot;, sans-serif" font-size="9.7" font-weight="normal" text-anchor="end" fill="#454545" stroke="#454545" stroke-width="0.3">50</text>
<line x1="633.40" y1="490.28" x2="637.70" y2="490.28" stroke="#c4c4c4" stroke-width="1" />
<text transform="translate(626.60,494.08) scale(1.0,1.12)" x="0" y="0" font-family="&quot;Liberation Sans&quot;, sans-serif" font-size="9.7" font-weight="normal" text-anchor="end" fill="#454545" stroke="#454545" stroke-width="0.3">60</text>
<line x1="633.40" y1="473.01" x2="637.70" y2="473.01" stroke="#c4c4c4" stroke-width="1" />
<text transform="translate(626.60,476.81) scale(1.0,1.12)" x="0" y="0" font-family="&quot;Liberation Sans&quot;, sans-serif" font-size="9.7" font-weight="normal" text-anchor="end" fill="#454545" stroke="#454545" stroke-width="0.3">70</text>
<line x1="633.40" y1="455.74" x2="637.70" y2="455.74" stroke="#c4c4c4" stroke-width="1" />
<text transform="translate(626.60,459.54) scale(1.0,1.12)" x="0" y="0" font-family="&quot;Liberation Sans&quot;, sans-serif" font-size="9.7" font-weight="normal" text-anchor="end" fill="#454545" stroke="#454545" stroke-width="0.3">80</text>
<line x1="633.40" y1="438.47" x2="637.70" y2="438.47" stroke="#c4c4c4" stroke-width="1" />
<text transform="translate(626.60,442.27) scale(1.0,1.12)" x="0" y="0" font-family="&quot;Liberation Sans&quot;, sans-serif" font-size="9.7" font-weight="normal" text-anchor="end" fill="#454545" stroke="#454545" stroke-width="0.3">90</text>
<line x1="633.40" y1="421.20" x2="637.70" y2="421.20" stroke="#c4c4c4" stroke-width="1" />
<text transform="translate(626.60,425.00) scale(1.0,1.12)" x="0" y="0" font-family="&quot;Liberation Sans&quot;, sans-serif" font-size="9.7" font-weight="normal" text-anchor="end" fill="#454545" stroke="#454545" stroke-width="0.3">100</text>
<line x1="637.70" y1="593.80" x2="637.70" y2="597.40" stroke="#c4c4c4" stroke-width="1" />
<text transform="translate(637.70,611.80) scale(1.0,1.12)" x="0" y="0" font-family="&quot;Liberation Sans&quot;, sans-serif" font-size="9.7" font-weight="normal" text-anchor="middle" fill="#454545" stroke="#454545" stroke-width="0.3">0</text>
<line x1="910.20" y1="593.80" x2="910.20" y2="597.40" stroke="#c4c4c4" stroke-width="1" />
<text transform="translate(910.20,611.80) scale(1.0,1.12)" x="0" y="0" font-family="&quot;Liberation Sans&quot;, sans-serif" font-size="9.7" font-weight="normal" text-anchor="middle" fill="#454545" stroke="#454545" stroke-width="0.3">1</text>
<text x="791.20" y="632.40" font-family="&quot;Liberation Sans&quot;, sans-serif" font-size="9" font-weight="bold" text-anchor="start" fill="#000" textLength="161.20" lengthAdjust="spacingAndGlyphs" >Formaldehyde Removal Time, hour</text>
<line x1="791.20" y1="634.30" x2="952.40" y2="634.30" stroke="#444" stroke-width="0.9" />
<g transform="translate(604.3,604.4) rotate(-90)">
<text x="0.00" y="0.00" font-family="&quot;Liberation Sans&quot;, sans-serif" font-size="9" font-weight="bold" text-anchor="start" fill="#000" textLength="174.20" lengthAdjust="spacingAndGlyphs" >Formaldehyde gas concentration,ppm</text>
<line x1="0.00" y1="1.20" x2="174.20" y2="1.20" stroke="#444" stroke-width="0.9" />
</g>
<line x1="895.30" y1="476.50" x2="917.10" y2="476.50" stroke="#4f81bd" stroke-width="2.2" />
<path d="M906.20,474.30 L908.40,476.50 L906.20,478.70 L904.00,476.50 Z" fill="#4f81bd"/>
<text x="919.70" y="478.60" font-family="&quot;Liberation Sans&quot;, sans-serif" font-size="6.3" font-weight="normal" text-anchor="start" fill="#222" textLength="95.60" lengthAdjust="spacingAndGlyphs" >Concentratio n with sample, ppm</text>
<line x1="895.30" y1="497.60" x2="917.10" y2="497.60" stroke="#c0504d" stroke-width="2.2" />
<rect x="904.40" y="495.80" width="3.60" height="3.60" fill="#c0504d"/>
<text x="919.70" y="499.70" font-family="&quot;Liberation Sans&quot;, sans-serif" font-size="6.3" font-weight="normal" text-anchor="start" fill="#222" textLength="75.30" lengthAdjust="spacingAndGlyphs" >Blank concentration, ppm</text>
<clipPath id="cpR"><rect x="637.1" y="419.6" width="440" height="174.6"/></clipPath>
<g clip-path="url(#cpR)">
<line x1="637.70" y1="420.68" x2="637.70" y2="449.35" stroke="#8a8a8a" stroke-width="1.1" />
<line x1="635.40" y1="420.68" x2="640.00" y2="420.68" stroke="#505050" stroke-width="1" />
<line x1="635.40" y1="449.35" x2="640.00" y2="449.35" stroke="#505050" stroke-width="1" />
<line x1="773.95" y1="420.68" x2="773.95" y2="449.35" stroke="#8a8a8a" stroke-width="1.1" />
<line x1="771.65" y1="420.68" x2="776.25" y2="420.68" stroke="#505050" stroke-width="1" />
<line x1="771.65" y1="449.35" x2="776.25" y2="449.35" stroke="#505050" stroke-width="1" />
<line x1="910.20" y1="425.86" x2="910.20" y2="454.53" stroke="#8a8a8a" stroke-width="1.1" />
<line x1="907.90" y1="425.86" x2="912.50" y2="425.86" stroke="#505050" stroke-width="1" />
<line x1="907.90" y1="454.53" x2="912.50" y2="454.53" stroke="#505050" stroke-width="1" />
<line x1="1046.45" y1="425.86" x2="1046.45" y2="454.53" stroke="#8a8a8a" stroke-width="1.1" />
<line x1="1044.15" y1="425.86" x2="1048.75" y2="425.86" stroke="#505050" stroke-width="1" />
<line x1="1044.15" y1="454.53" x2="1048.75" y2="454.53" stroke="#505050" stroke-width="1" />
<line x1="637.70" y1="417.75" x2="637.70" y2="452.29" stroke="#8a8a8a" stroke-width="1.1" />
<line x1="635.40" y1="417.75" x2="640.00" y2="417.75" stroke="#505050" stroke-width="1" />
<line x1="635.40" y1="452.29" x2="640.00" y2="452.29" stroke="#505050" stroke-width="1" />
<line x1="773.95" y1="562.47" x2="773.95" y2="597.01" stroke="#8a8a8a" stroke-width="1.1" />
<line x1="771.65" y1="562.47" x2="776.25" y2="562.47" stroke="#505050" stroke-width="1" />
<line x1="771.65" y1="597.01" x2="776.25" y2="597.01" stroke="#505050" stroke-width="1" />
<line x1="910.20" y1="564.02" x2="910.20" y2="598.56" stroke="#8a8a8a" stroke-width="1.1" />
<line x1="907.90" y1="564.02" x2="912.50" y2="564.02" stroke="#505050" stroke-width="1" />
<line x1="907.90" y1="598.56" x2="912.50" y2="598.56" stroke="#505050" stroke-width="1" />
<line x1="1046.45" y1="569.20" x2="1046.45" y2="603.74" stroke="#8a8a8a" stroke-width="1.1" />
<line x1="1044.15" y1="569.20" x2="1048.75" y2="569.20" stroke="#505050" stroke-width="1" />
<line x1="1044.15" y1="603.74" x2="1048.75" y2="603.74" stroke="#505050" stroke-width="1" />
<path d="M637.70,435.02 C660.41,459.14 728.53,555.36 773.95,579.74 C819.37,604.12 864.78,580.17 910.20,581.29 C955.62,582.42 1023.74,585.61 1046.45,586.47" fill="none" stroke="#4f81bd" stroke-width="2.1"/>
<path d="M637.70,435.02 C660.41,435.02 728.53,434.15 773.95,435.02 C819.37,435.88 864.78,439.33 910.20,440.20 C955.62,441.06 1023.74,440.20 1046.45,440.20" fill="none" stroke="#c0504d" stroke-width="2.1"/>
</g>
<path d="M637.70,429.42 L643.30,435.02 L637.70,440.62 L632.10,435.02 Z" fill="#4f81bd"/>
<path d="M773.95,574.14 L779.55,579.74 L773.95,585.34 L768.35,579.74 Z" fill="#4f81bd"/>
<path d="M910.20,575.69 L915.80,581.29 L910.20,586.89 L904.60,581.29 Z" fill="#4f81bd"/>
<path d="M1046.45,580.87 L1052.05,586.47 L1046.45,592.07 L1040.85,586.47 Z" fill="#4f81bd"/>
<rect x="632.95" y="430.27" width="9.50" height="9.50" fill="#c0504d"/>
<rect x="769.20" y="430.27" width="9.50" height="9.50" fill="#c0504d"/>
<rect x="905.45" y="435.45" width="9.50" height="9.50" fill="#c0504d"/>
<rect x="1041.70" y="435.45" width="9.50" height="9.50" fill="#c0504d"/>
<text transform="translate(650.00,424.40) scale(1.0,1.12)" x="0" y="0" font-family="&quot;Liberation Sans&quot;, sans-serif" font-size="10" font-weight="normal" text-anchor="start" fill="#4d4d4d" stroke="#4d4d4d" stroke-width="0.15">92</text>
<text transform="translate(640.00,463.00) scale(1.0,1.12)" x="0" y="0" font-family="&quot;Liberation Sans&quot;, sans-serif" font-size="10" font-weight="normal" text-anchor="start" fill="#4d4d4d" stroke="#4d4d4d" stroke-width="0.15">92</text>
<text transform="translate(789.80,428.00) scale(1.0,1.12)" x="0" y="0" font-family="&quot;Liberation Sans&quot;, sans-serif" font-size="10" font-weight="normal" text-anchor="start" fill="#4d4d4d" stroke="#4d4d4d" stroke-width="0.15">92</text>
<text transform="translate(783.30,577.30) scale(1.0,1.12)" x="0" y="0" font-family="&quot;Liberation Sans&quot;, sans-serif" font-size="10" font-weight="normal" text-anchor="start" fill="#4d4d4d" stroke="#4d4d4d" stroke-width="0.15">8,2</text>
<text transform="translate(927.00,427.90) scale(1.0,1.12)" x="0" y="0" font-family="&quot;Liberation Sans&quot;, sans-serif" font-size="10" font-weight="normal" text-anchor="start" fill="#4d4d4d" stroke="#4d4d4d" stroke-width="0.15">89</text>
<text transform="translate(921.00,574.90) scale(1.0,1.12)" x="0" y="0" font-family="&quot;Liberation Sans&quot;, sans-serif" font-size="10" font-weight="normal" text-anchor="start" fill="#4d4d4d" stroke="#4d4d4d" stroke-width="0.15">7,3</text>
<text transform="translate(1055.90,432.90) scale(1.0,1.12)" x="0" y="0" font-family="&quot;Liberation Sans&quot;, sans-serif" font-size="10" font-weight="normal" text-anchor="start" fill="#4d4d4d" stroke="#4d4d4d" stroke-width="0.15">89</text>
<text transform="translate(1057.00,581.30) scale(1.0,1.12)" x="0" y="0" font-family="&quot;Liberation Sans&quot;, sans-serif" font-size="10" font-weight="normal" text-anchor="start" fill="#4d4d4d" stroke="#4d4d4d" stroke-width="0.15">4,3</text>
</svg>
</body></html>
